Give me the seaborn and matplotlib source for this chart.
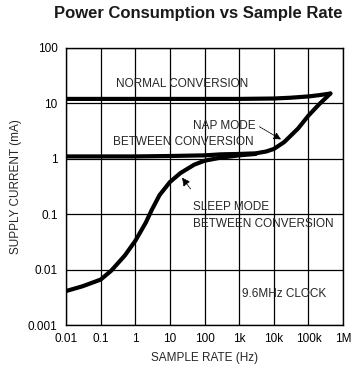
import numpy as np
import pandas as pd
import matplotlib
matplotlib.use("Agg")
import matplotlib.pyplot as plt
import seaborn as sns

# values (sample rate in Hz, supply current in mA)
normal_rate = [0.01, 1, 100, 1e3, 1e4, 3e4, 1e5, 2e5, 4.3e5]
normal_ma = [12, 12, 12, 12, 12.2, 12.6, 13.3, 14.0, 15]

nap_rate = [0.01, 1, 10, 100, 300, 1e3, 3e3, 6e3, 1e4, 2e4, 5e4, 1e5, 2e5, 4.3e5]
nap_ma = [1.1, 1.1, 1.12, 1.15, 1.2, 1.22, 1.25, 1.35, 1.5, 2.0, 3.5, 6.0, 9.5, 15]

sleep_rate = [0.01, 0.03, 0.1, 0.2, 0.5, 1, 2, 3, 5, 10, 20, 50, 100, 300, 1e3, 3e3]
sleep_ma = [0.0041, 0.0050, 0.0066, 0.0095, 0.018, 0.033, 0.07, 0.12, 0.22, 0.38, 0.55, 0.78, 0.92, 1.05, 1.15, 1.22]

xticks = [0.01, 0.1, 1, 10, 100, 1e3, 1e4, 1e5, 1e6]
xlabels = ["0.01", "0.1", "1", "10", "100", "1k", "10k", "100k", "1M"]
yticks = [0.001, 0.01, 0.1, 1, 10, 100]
ylabels = ["0.001", "0.01", "0.1", "1", "10", "100"]

df = pd.concat([
    pd.DataFrame({"rate": normal_rate, "ma": normal_ma, "mode": "normal"}),
    pd.DataFrame({"rate": nap_rate, "ma": nap_ma, "mode": "nap"}),
    pd.DataFrame({"rate": sleep_rate, "ma": sleep_ma, "mode": "sleep"}),
])

sns.set_style("white")
plt.rcParams["font.family"] = ["Liberation Sans", "DejaVu Sans"]

fig = plt.figure(figsize=(3.57, 3.74), dpi=100)
ax = fig.add_axes([0.185, 0.131, 0.776, 0.741])

sns.lineplot(data=df, x="rate", y="ma", units="mode", estimator=None,
             color="black", linewidth=3.0, sort=False, ax=ax)

ax.set_xscale("log")
ax.set_yscale("log")
ax.set_xlim(0.01, 1e6)
ax.set_ylim(0.001, 100)
ax.set_xticks(xticks)
ax.set_xticklabels(xlabels)
ax.set_yticks(yticks)
ax.set_yticklabels(ylabels)
ax.minorticks_off()
ax.grid(True, color="black", linewidth=0.9)
for s in ax.spines.values():
    s.set_color("black")
    s.set_linewidth(1.0)
ax.tick_params(length=0, labelsize=8.5, colors="black", pad=6)

fs = 8.5
ax.set_xlabel("SAMPLE RATE (Hz)", fontsize=fs, labelpad=5)
ax.set_ylabel("SUPPLY CURRENT (mA)", fontsize=fs, labelpad=4)
fig.suptitle("Power Consumption vs Sample Rate", x=0.555, y=0.985,
             fontsize=12, fontweight="bold", color="#1a1a1a")

ax.text(0.27, 20, "NORMAL CONVERSION", fontsize=fs)
ax.text(2.9e3, 3.4, "NAP MODE", fontsize=fs, ha="right")
ax.text(0.23, 1.8, "BETWEEN CONVERSION", fontsize=fs)
ax.annotate("", xy=(1.9e4, 2.1), xytext=(3.3e3, 4.0),
            arrowprops=dict(arrowstyle="-|>", color="black", lw=0.6,
                            mutation_scale=11, linestyle=(0, (2, 1))))
ax.text(47, 0.117, "SLEEP MODE", fontsize=fs)
ax.text(47, 0.059, "BETWEEN CONVERSION", fontsize=fs)
ax.annotate("", xy=(20, 0.5), xytext=(44, 0.26),
            arrowprops=dict(arrowstyle="-|>", color="black", lw=0.6,
                            mutation_scale=12, linestyle=(0, (2, 1))))
ax.text(1.2e3, 0.0032, "9.6MHz CLOCK", fontsize=fs)

fig.savefig("out.png", dpi=100)
